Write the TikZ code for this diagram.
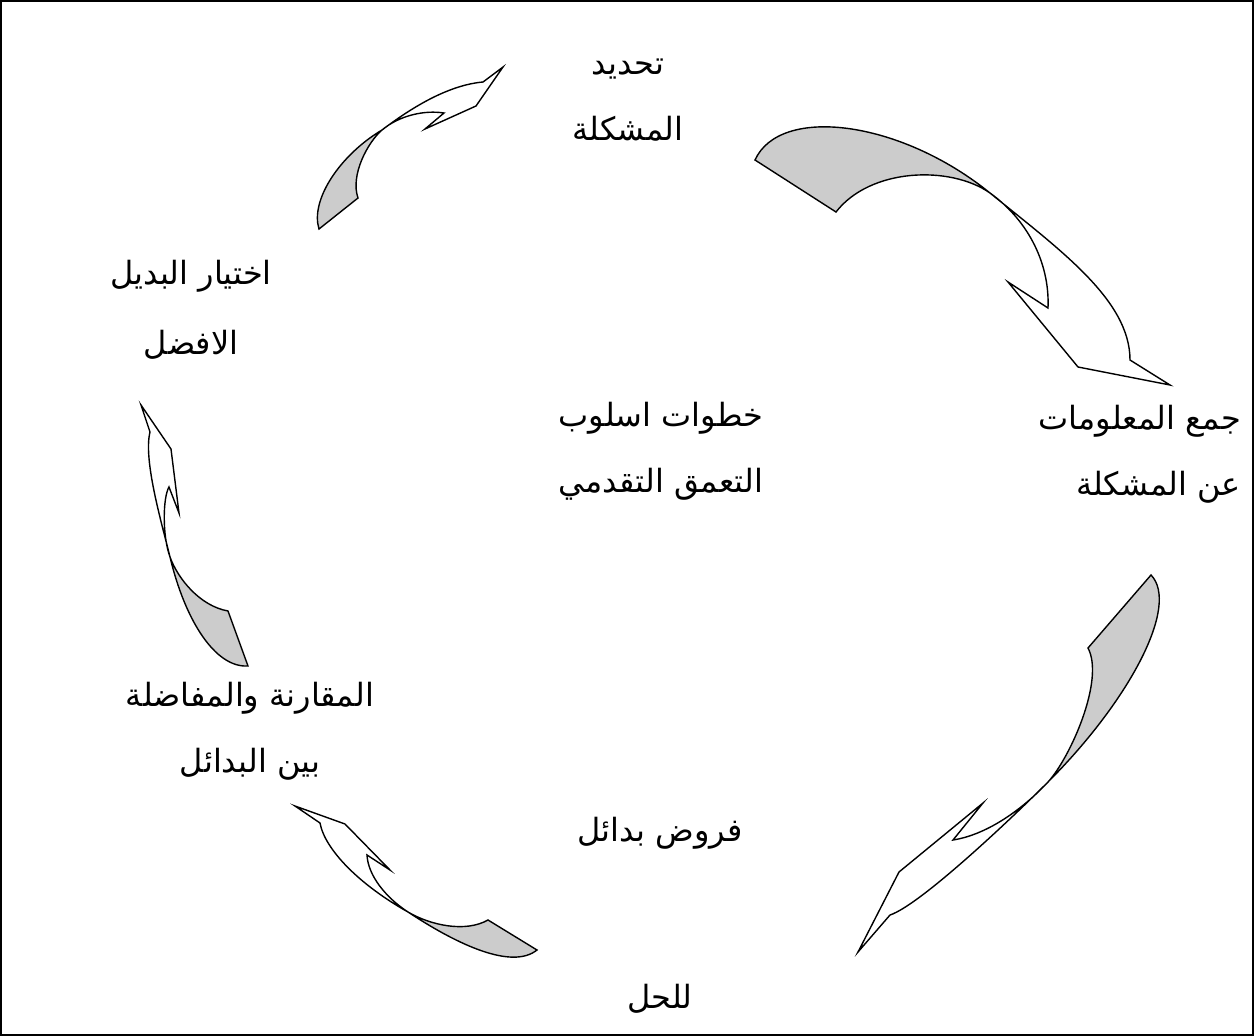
\documentclass[tikz,border=0pt]{standalone}
\usepackage{fontspec}
\newfontfamily\arabicfont[Script=Arabic]{DejaVu Sans}
\TeXXeTstate=1
\definecolor{backface}{RGB}{204,204,204}
\begin{document}
\begin{tikzpicture}[x=1pt,y=-1pt,
  outline/.style={line width=1.4pt, line join=miter, miter limit=10},
  backside/.style={fill=backface},
  lbl/.style={font=\arabicfont\fontsize{32}{66}\selectfont, align=center, inner sep=0pt}]
\useasboundingbox (0,0) rectangle (1254,1036);
\draw[line width=1.5pt] (1,1) rectangle (1253,1035);

% --- step labels ---
\node[lbl] (define) at (628,100) {\beginR تحديد\endR\\\beginR المشكلة\endR};
\node[lbl, align=right, anchor=east] (collect) at (1241,454) {\beginR جمع المعلومات\endR\\\beginR عن المشكلة\endR};
\node[lbl] (title) at (661,451) {\beginR خطوات اسلوب\endR\\\beginR التعمق التقدمي\endR};
\node[lbl, font=\arabicfont\fontsize{32}{70}\selectfont] (choose) at (191,310) {\beginR اختيار البديل\endR\\\beginR الافضل\endR};
\node[lbl] (compare) at (250,731) {\beginR المقارنة والمفاضلة\endR\\\beginR بين البدائل\endR};
\node[lbl, font=\arabicfont\fontsize{32}{167}\selectfont] (propose) at (660,915) {\beginR فروض بدائل\endR\\\beginR للحل\endR};

% --- twisted block arrows (shaded back face at the tail) ---
% define -> collect
\fill[backside] (755,160) .. controls (780,105) and (900,120) .. (990,193)
  .. controls (950,165) and (870,168) .. (836,212) -- cycle;
\draw[outline] (755,160) .. controls (780,105) and (900,120) .. (990,193)
  .. controls (1060,250) and (1130,300) .. (1130,360)
  -- (1170,385) -- (1078,367) -- (1008,282) -- (1048,308)
  .. controls (1050,260) and (1025,218) .. (990,193)
  .. controls (950,165) and (870,168) .. (836,212) -- cycle;

% collect -> propose
\fill[backside] (1151,575) .. controls (1180,605) and (1130,700) .. (1048,782)
  .. controls (1070,758) and (1105,680) .. (1088,648) -- cycle;
\draw[outline] (1151,575) .. controls (1180,605) and (1130,700) .. (1048,782)
  .. controls (1010,820) and (920,905) .. (890,915)
  -- (858,952) -- (899,872) -- (983,803) -- (953,840)
  .. controls (985,835) and (1020,812) .. (1048,782)
  .. controls (1070,758) and (1105,680) .. (1088,648) -- cycle;

% propose -> compare
\fill[backside] (537,950) .. controls (512,970) and (458,945) .. (408,912)
  .. controls (430,925) and (465,933) .. (488,920) -- cycle;
\draw[outline] (537,950) .. controls (512,970) and (458,945) .. (408,912)
  .. controls (360,885) and (325,850) .. (320,823)
  -- (295,806) -- (345,824) -- (390,870) -- (367,855)
  .. controls (368,875) and (385,897) .. (408,912)
  .. controls (430,925) and (465,933) .. (488,920) -- cycle;

% compare -> choose
\fill[backside] (248,666) .. controls (215,668) and (185,620) .. (170,557)
  .. controls (178,579) and (200,606) .. (228,611) -- cycle;
\draw[outline] (248,666) .. controls (215,668) and (185,620) .. (170,557)
  .. controls (162,524) and (143,460) .. (150,432)
  -- (141,405) -- (171,449) -- (179,513) -- (169,487)
  .. controls (163,497) and (162,535) .. (170,557)
  .. controls (178,579) and (200,606) .. (228,611) -- cycle;

% choose -> define
\fill[backside] (319,229) .. controls (310,200) and (340,155) .. (382,130)
  .. controls (368,142) and (350,175) .. (358,198) -- cycle;
\draw[outline] (319,229) .. controls (310,200) and (340,155) .. (382,130)
  .. controls (415,105) and (450,85) .. (483,82)
  -- (503,67) -- (476,106) -- (425,129) -- (444,113)
  .. controls (425,110) and (400,115) .. (382,130)
  .. controls (368,142) and (350,175) .. (358,198) -- cycle;
\end{tikzpicture}
\end{document}
